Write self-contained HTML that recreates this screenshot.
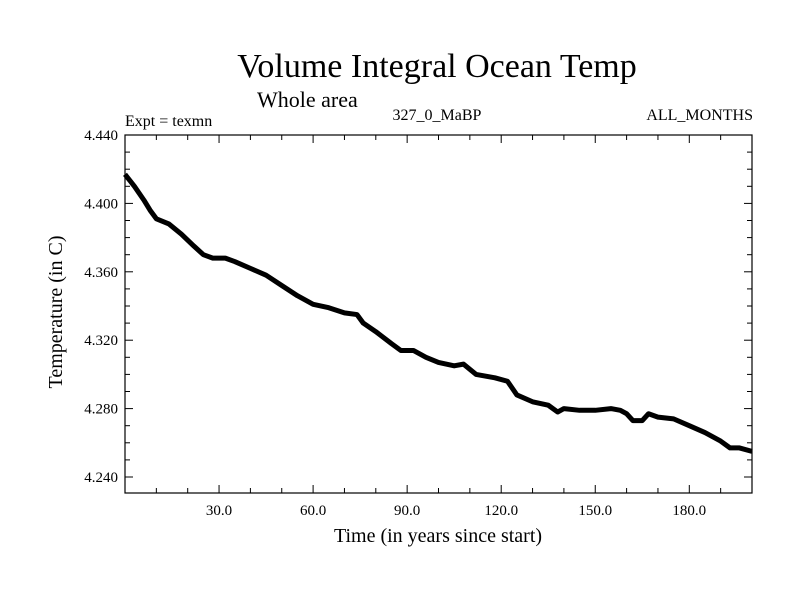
<!DOCTYPE html>
<html><head><meta charset="utf-8"><style>
body{margin:0;background:#fff}
svg text{font-family:"Liberation Serif",serif;fill:#000}
</style></head><body>
<svg width="800" height="600" xmlns="http://www.w3.org/2000/svg">
<rect width="800" height="600" fill="#fff"/>
<text x="437" y="77" font-size="34" text-anchor="middle">Volume Integral Ocean Temp</text>
<text x="257" y="107" font-size="22">Whole area</text>
<text x="125" y="126" font-size="16">Expt = texmn</text>
<text x="437" y="120" font-size="16" text-anchor="middle">327_0_MaBP</text>
<text x="753" y="120" font-size="16" text-anchor="end">ALL_MONTHS</text>
<text transform="translate(62,312) rotate(-90)" font-size="20" text-anchor="middle">Temperature (in C)</text>
<text x="438" y="542" font-size="20" text-anchor="middle">Time (in years since start)</text>
<g id="axes"></g>
<g id="plot"></g>
</svg>
<script>
const years=[0,3,6,8,10,14,18,22,25,28,32,35,40,45,50,55,60,65,70,74,76,80,85,88,92,96,100,105,108,112,118,122,125,130,135,138,140,145,150,155,158,160,162,165,167,170,175,180,185,190,193,196,200];
const temps=[4.417,4.410,4.402,4.396,4.391,4.388,4.382,4.375,4.370,4.368,4.368,4.366,4.362,4.358,4.352,4.346,4.341,4.339,4.336,4.335,4.330,4.325,4.318,4.314,4.314,4.310,4.307,4.305,4.306,4.300,4.298,4.296,4.288,4.284,4.282,4.278,4.280,4.279,4.279,4.280,4.279,4.277,4.273,4.273,4.277,4.275,4.274,4.270,4.266,4.261,4.257,4.257,4.255];
const xTicks=[30,60,90,120,150,180];
const xTickLabels=["30.0","60.0","90.0","120.0","150.0","180.0"];
const yTicks=[4.24,4.28,4.32,4.36,4.40,4.44];
const yTickLabels=["4.240","4.280","4.320","4.360","4.400","4.440"];
const L=125,R=752,T=135,B=493,xMin=0,xMax=200,yMax=4.44,yPer=68.4/0.04;
const sx=v=>L+(v-xMin)/(xMax-xMin)*(R-L);
const sy=v=>T+(yMax-v)*yPer;
const NS="http://www.w3.org/2000/svg";
const ax=document.getElementById('axes'),pl=document.getElementById('plot');
function mk(tag,attrs,parent){const e=document.createElementNS(NS,tag);for(const k in attrs)e.setAttribute(k,attrs[k]);parent.appendChild(e);return e;}
const fr=mk('rect',{x:L,y:T,width:R-L,height:B-T,fill:'none',stroke:'#000','stroke-width':1.2},ax);


for(let v=10;v<200;v+=10){const major=v%30===0;const len=major?8:5;const x=sx(v);
 mk('line',{x1:x,x2:x,y1:B,y2:B-len,stroke:'#000'},ax);
 mk('line',{x1:x,x2:x,y1:T,y2:T+len,stroke:'#000'},ax);}
for(let i=0;i<=20;i++){const v=4.24-0.01+i*0.01;const y=sy(v);if(y<T+1||y>B-1)continue;const major=Math.abs(((v-4.24)/0.04)-Math.round((v-4.24)/0.04))<1e-6;const len=major?8:5;
 mk('line',{x1:L,x2:L+len,y1:y,y2:y,stroke:'#000'},ax);
 mk('line',{x1:R,x2:R-len,y1:y,y2:y,stroke:'#000'},ax);}
xTicks.forEach((v,i)=>{const t=mk('text',{x:sx(v),y:B+22,'font-size':15,'text-anchor':'middle'},ax);t.textContent=xTickLabels[i];
 
 });
yTicks.forEach((v,i)=>{const t=mk('text',{x:L-7,y:sy(v)+5,'font-size':15,'text-anchor':'end'},ax);t.textContent=yTickLabels[i];
 
 });
const pts=years.map((y,i)=>sx(y)+','+sy(temps[i])).join(' ');
const line=mk('polyline',{points:pts,fill:'none',stroke:'#000','stroke-width':5,'stroke-linejoin':'round'},pl);


</script>
</body></html>
